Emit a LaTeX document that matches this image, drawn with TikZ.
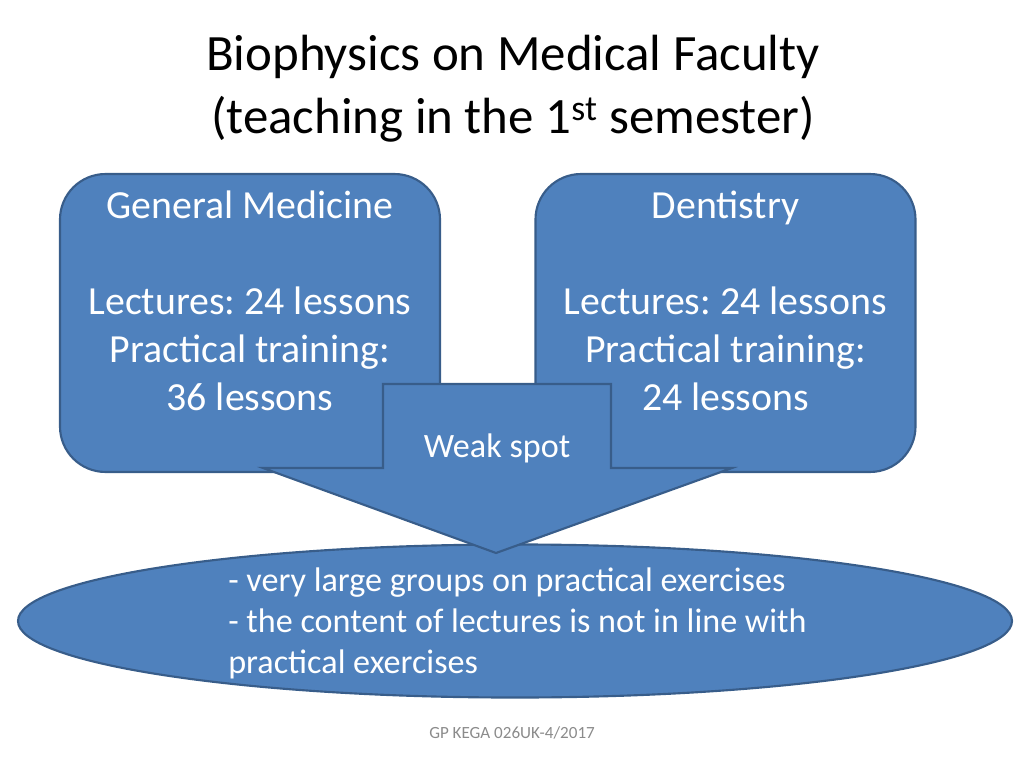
\documentclass[tikz,border=0pt]{standalone}
\usepackage{fontspec}
\setmainfont{Carlito}
\frenchspacing
\usetikzlibrary{shapes.geometric}
\definecolor{fillblue}{HTML}{4F81BD}
\definecolor{edgeblue}{HTML}{385D8A}
\definecolor{footgray}{HTML}{8B8B8B}
\tikzset{
  shapefill/.style={fill=fillblue, draw=edgeblue, line width=1.5pt, line join=miter},
  boxshape/.style={shapefill, rectangle, rounded corners=32pt, minimum width=267.2pt, minimum height=209.5pt, inner sep=0pt},
  boxtext/.style={text=white, align=center, font=\fontsize{28}{33.75}\selectfont, inner sep=0pt},
}
\begin{document}
\begin{tikzpicture}[x=0.703125pt, y=-0.703125pt]
\useasboundingbox (0,0) rectangle (1024,768);
% title
\node[align=center, font=\fontsize{35.8}{44.3}\selectfont, inner sep=0pt] (title) at (513,89)
  {Biophysics on Medical Faculty\\(teaching in the 1\textsuperscript{st} semester)};
% ellipse
\node[shapefill, ellipse, minimum width=698.9pt, minimum height=107.6pt, inner sep=0pt] (ell) at (515,621) {};
\node[text=white, align=left, anchor=west, font=\fontsize{24}{28.9}\selectfont, inner sep=0pt] (elltext) at (228,623)
  {- very large groups on practical exercises\\- the content of lectures is not in line with\\practical exercises};
% boxes
\node[boxshape] (gm) at (250,323) {};
\node[boxshape] (dent) at (725.5,323) {};
\node[boxtext] (gmtext) at (250,301)
  {General Medicine\\[33.75pt]Lectures: 24 lessons\\Practical training:\\36 lessons};
\node[boxtext] (denttext) at (725.5,301)
  {Dentistry\\[33.75pt]Lectures: 24 lessons\\Practical training:\\24 lessons};
% arrow
\coordinate (tip) at (496,553);
\draw[shapefill] (383,384) -- (611,384) -- (611,468) -- (732,468) -- (tip) -- (263,468) -- (383,468) -- cycle;
\node[text=white, font=\fontsize{24}{28.9}\selectfont, inner sep=0pt] (weak) at (497,448) {Weak spot};
% footer
\node[text=footgray, font=\fontsize{12}{14}\selectfont, inner sep=0pt] (foot) at (512,733) {GP KEGA 026UK-4/2017};
\end{tikzpicture}
\end{document}
